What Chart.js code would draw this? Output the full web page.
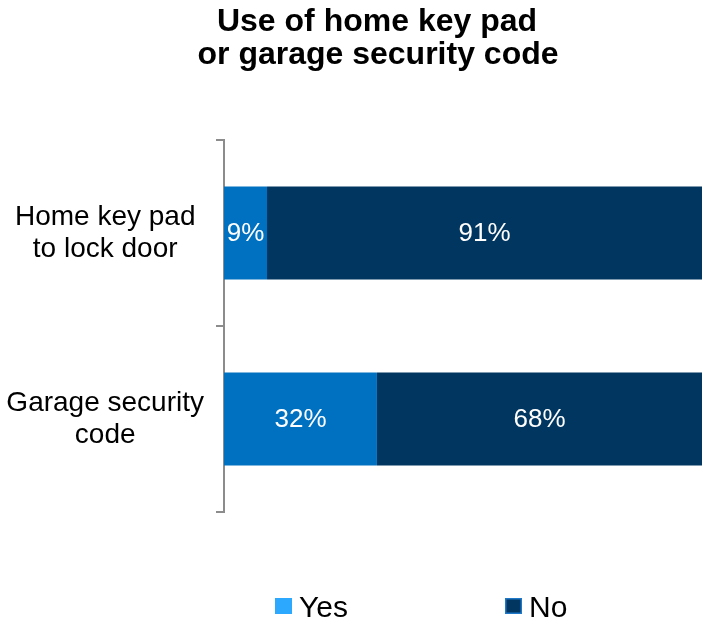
<!DOCTYPE html>
<html>
<head>
<meta charset="utf-8">
<script src="https://cdn.jsdelivr.net/npm/chart.js@4/dist/chart.umd.min.js"></script>
<style>
html,body{margin:0;padding:0;background:#fff;}
#wrap{width:702px;height:623px;position:relative;}
</style>
</head>
<body>
<div id="wrap"><canvas id="c" width="702" height="623"></canvas></div>
<script>
const titleLines = ["Use of home key pad", "or garage security code"];
const categories = [["Home key pad", "to lock door"], ["Garage security", "code"]];
const seriesNames = ["Yes", "No"];
const yesValues = [9, 32];
const noValues = [91, 68];

const FONT = "'Liberation Sans', Arial, sans-serif";
const barColors = ["#0070C0", "#003660"];
const legendColors = ["#2DA8FF", "#003660"];

const overlayPlugin = {
  id: 'overlay',
  afterDatasetsDraw(chart) {
    const ctx = chart.ctx;
    ctx.save();
    ctx.fillStyle = '#ffffff';
    ctx.font = '26px ' + FONT;
    ctx.textAlign = 'center';
    ctx.textBaseline = 'middle';
    chart.data.datasets.forEach((ds, di) => {
      const meta = chart.getDatasetMeta(di);
      meta.data.forEach((el, i) => {
        const cx = (el.x + el.base) / 2;
        ctx.fillText(ds.data[i] + '%', cx, el.y + 1);
      });
    });
    ctx.restore();
  },
  afterDraw(chart) {
    const ctx = chart.ctx;
    ctx.save();
    ctx.fillStyle = '#000';
    ctx.font = 'bold 32px ' + FONT;
    ctx.textAlign = 'center';
    ctx.textBaseline = 'alphabetic';
    ctx.fillText(titleLines[0], 377, 31);
    ctx.fillText(titleLines[1], 378, 64);
    const items = [{x: 275, label: seriesNames[0], color: legendColors[0], stroke: null},
                   {x: 505, label: seriesNames[1], color: legendColors[1], stroke: '#1F78C8'}];
    ctx.font = '30px ' + FONT;
    ctx.textAlign = 'left';
    items.forEach(it => {
      ctx.fillStyle = it.color;
      ctx.fillRect(it.x, 598, 17, 16);
      if (it.stroke) {
        ctx.strokeStyle = it.stroke;
        ctx.lineWidth = 1.5;
        ctx.strokeRect(it.x + 0.75, 598.75, 15.5, 14.5);
      }
      ctx.fillStyle = '#000';
      ctx.fillText(it.label, it.x + 24, 617);
    });
    ctx.restore();
  }
};

new Chart(document.getElementById('c'), {
  type: 'bar',
  data: {
    labels: categories,
    datasets: [
      { label: seriesNames[0], data: yesValues, backgroundColor: barColors[0], borderWidth: 0,
        barPercentage: 0.5, categoryPercentage: 1.0 },
      { label: seriesNames[1], data: noValues, backgroundColor: barColors[1], borderWidth: 0,
        barPercentage: 0.5, categoryPercentage: 1.0 }
    ]
  },
  options: {
    indexAxis: 'y',
    responsive: false,
    animation: false,
    layout: { padding: { top: 140, bottom: 111, left: 0, right: 0 } },
    plugins: {
      legend: { display: false },
      title: { display: false },
      tooltip: { enabled: false }
    },
    scales: {
      x: { stacked: true, min: 0, max: 100, display: false },
      y: {
        stacked: true,
        afterFit(scale) { scale.width = 224; },
        border: { display: true, color: '#8C8C8C', width: 2 },
        grid: { offset: true, drawOnChartArea: false, drawTicks: true, tickLength: 8, color: '#8C8C8C', lineWidth: 2 },
        ticks: {
          color: '#000',
          font: { family: FONT, size: 28, lineHeight: 1.14 },
          crossAlign: 'center',
          padding: 12
        }
      }
    }
  },
  plugins: [overlayPlugin]
});
</script>
</body>
</html>
